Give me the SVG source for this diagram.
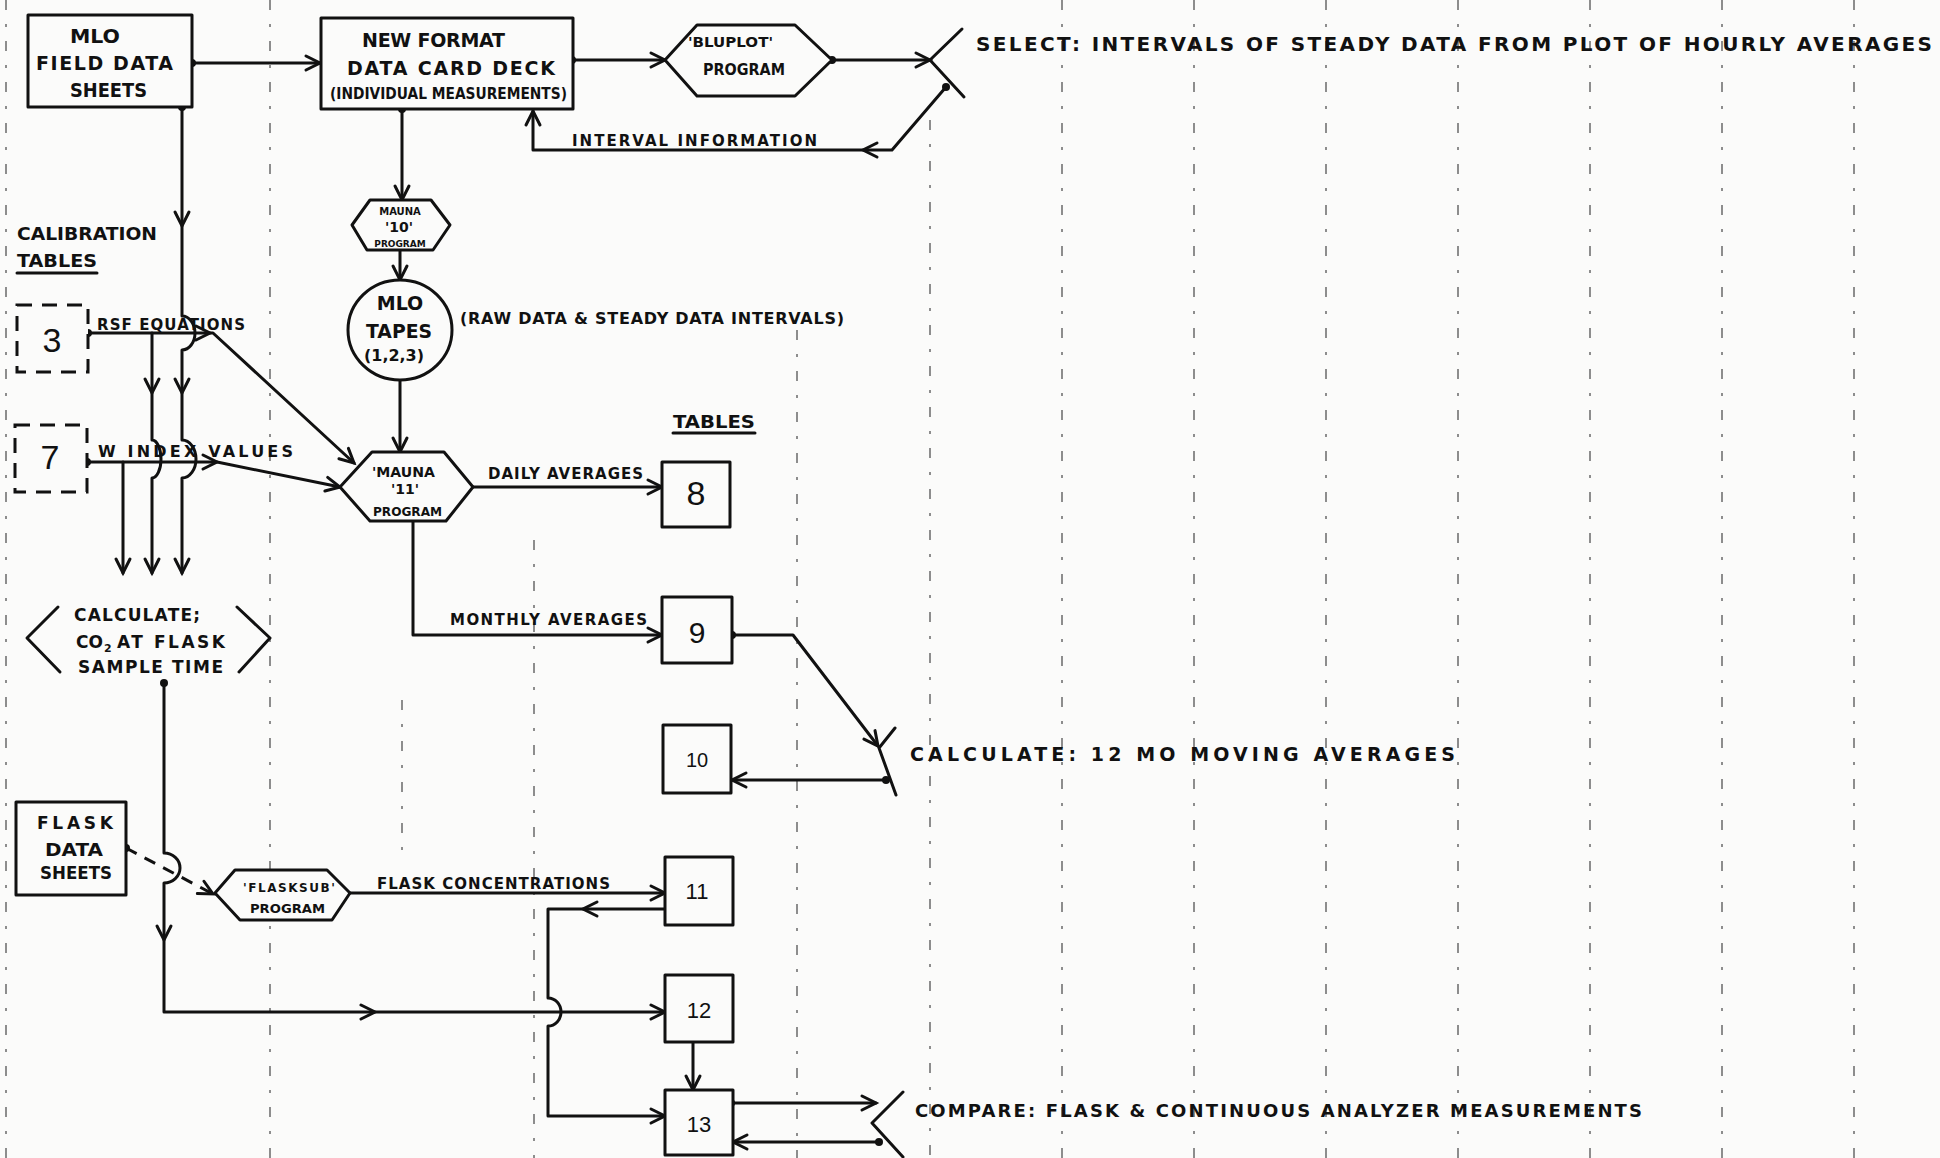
<svg xmlns="http://www.w3.org/2000/svg" xmlns:xlink="http://www.w3.org/1999/xlink" width="1940" height="1158" viewBox="0 0 1940 1158">
<style>
.bg{fill:#fbfbfa}
.grid{stroke:#333;stroke-width:2;stroke-dasharray:10 14 3 14;opacity:0.55;fill:none}
.ln{stroke:#111;stroke-width:3;fill:none;stroke-linejoin:round;stroke-linecap:round}
.dash{stroke:#111;stroke-width:3;fill:none;stroke-dasharray:12 9}
.shape{stroke:#111;stroke-width:3;fill:#fbfbfa;stroke-linejoin:round}
.dbox{stroke:#111;stroke-width:3;fill:#fbfbfa;stroke-dasharray:15 10}
.t{font-family:'DejaVu Sans','Liberation Sans',Arial,sans-serif;font-weight:bold;fill:#111}
.n{font-family:'Liberation Sans',Arial,sans-serif;fill:#111;text-anchor:middle}
.c{text-anchor:middle}
</style>
<defs>
<path id="ah" d="M-14,-7 L0,0 L-14,7" fill="none" stroke="#111" stroke-width="3" stroke-linejoin="miter" stroke-linecap="round"/>
<circle id="dot" r="4" fill="#111"/>
</defs>
<rect class="bg" x="0" y="0" width="1940" height="1158"/>

<g id="paper-rules">
<line class="grid" x1="6" y1="0" x2="6" y2="1158"/>
<line class="grid" x1="270" y1="0" x2="270" y2="1158"/>
<line class="grid" x1="402" y1="700" x2="402" y2="850"/>
<line class="grid" x1="534" y1="540" x2="534" y2="1158"/>
<line class="grid" x1="797" y1="330" x2="797" y2="1158"/>
<line class="grid" x1="930" y1="120" x2="930" y2="1158"/>
<line class="grid" x1="1062" y1="0" x2="1062" y2="1158"/>
<line class="grid" x1="1194" y1="0" x2="1194" y2="1158"/>
<line class="grid" x1="1326" y1="0" x2="1326" y2="1158"/>
<line class="grid" x1="1458" y1="0" x2="1458" y2="1158"/>
<line class="grid" x1="1590" y1="0" x2="1590" y2="1158"/>
<line class="grid" x1="1722" y1="0" x2="1722" y2="1158"/>
<line class="grid" x1="1854" y1="0" x2="1854" y2="1158"/>
</g>

<g id="connectors">
<path class="ln" d="M192,63 L320,63"/>
<use xlink:href="#dot" x="192" y="63"/>
<use xlink:href="#ah" transform="translate(320,63)"/>
<path class="ln" d="M572,60 L665,60"/>
<use xlink:href="#dot" x="572" y="60"/>
<use xlink:href="#ah" transform="translate(665,60)"/>
<path class="ln" d="M832,60 L930,60"/>
<use xlink:href="#dot" x="832" y="60"/>
<use xlink:href="#ah" transform="translate(930,60)"/>
<path class="ln" d="M946,87 L892,150 L533,150 L533,111"/>
<use xlink:href="#dot" x="946" y="87"/>
<use xlink:href="#ah" transform="translate(863,150) rotate(180)"/>
<use xlink:href="#ah" transform="translate(533,111) rotate(-90)"/>
<path class="ln" d="M402,109 L402,200"/>
<use xlink:href="#dot" x="402" y="109"/>
<use xlink:href="#ah" transform="translate(402,200) rotate(90)"/>
<path class="ln" d="M400,250 L400,280"/>
<use xlink:href="#ah" transform="translate(400,280) rotate(90)"/>
<path class="ln" d="M400,380 L400,452"/>
<use xlink:href="#ah" transform="translate(400,452) rotate(90)"/>
<path class="ln" d="M473,487 L662,487"/>
<use xlink:href="#ah" transform="translate(662,487)"/>
<path class="ln" d="M413,521 L413,635 L662,635"/>
<use xlink:href="#ah" transform="translate(662,635)"/>
<path class="ln" d="M732,635 L793,635 L878,746"/>
<use xlink:href="#dot" x="732" y="635"/>
<use xlink:href="#ah" transform="translate(878,746) rotate(52.5)"/>
<path class="ln" d="M886,780 L732,780"/>
<use xlink:href="#dot" x="886" y="780"/>
<use xlink:href="#ah" transform="translate(732,780) rotate(180)"/>
<path class="ln" d="M182,107 L182,316 A13,17 0 0 1 182,350 L182,440 A14,19 0 0 1 182,478 L182,573"/>
<use xlink:href="#dot" x="182" y="107"/>
<use xlink:href="#ah" transform="translate(182,226) rotate(90)"/>
<use xlink:href="#ah" transform="translate(182,393) rotate(90)"/>
<use xlink:href="#ah" transform="translate(182,573) rotate(90)"/>
<path class="ln" d="M88,333 L213,333 L354,463"/>
<use xlink:href="#dot" x="88" y="333"/>
<use xlink:href="#ah" transform="translate(210,333)"/>
<use xlink:href="#ah" transform="translate(354,463) rotate(42.5)"/>
<path class="ln" d="M152,333 L152,440 A9,19 0 0 1 152,478 L152,573"/>
<use xlink:href="#ah" transform="translate(152,393) rotate(90)"/>
<use xlink:href="#ah" transform="translate(152,573) rotate(90)"/>
<path class="ln" d="M87,462 L217,462 L340,487"/>
<use xlink:href="#dot" x="87" y="462"/>
<use xlink:href="#ah" transform="translate(217,462)"/>
<use xlink:href="#ah" transform="translate(340,487) rotate(11.5)"/>
<path class="ln" d="M123,462 L123,573"/>
<use xlink:href="#ah" transform="translate(123,573) rotate(90)"/>
<path class="ln" d="M164,683 L164,853 A16,15 0 0 1 164,883 L164,1012 L665,1012"/>
<use xlink:href="#dot" x="164" y="683"/>
<use xlink:href="#ah" transform="translate(164,940) rotate(90)"/>
<use xlink:href="#ah" transform="translate(375,1012)"/>
<use xlink:href="#ah" transform="translate(665,1012)"/>
<path class="dash" d="M126,848 L213,894"/>
<use xlink:href="#dot" x="126" y="848"/>
<use xlink:href="#ah" transform="translate(213,894) rotate(28)"/>
<path class="ln" d="M350,893 L665,893"/>
<use xlink:href="#ah" transform="translate(665,893)"/>
<path class="ln" d="M665,909 L548,909 L548,998 A13,14 0 0 1 548,1026 L548,1116 L665,1116"/>
<use xlink:href="#ah" transform="translate(583,909) rotate(180)"/>
<use xlink:href="#ah" transform="translate(665,1116)"/>
<path class="ln" d="M693,1042 L693,1090"/>
<use xlink:href="#ah" transform="translate(693,1090) rotate(90)"/>
<path class="ln" d="M731,1103 L876,1103"/>
<use xlink:href="#dot" x="731" y="1103"/>
<use xlink:href="#ah" transform="translate(876,1103)"/>
<path class="ln" d="M879,1142 L733,1142"/>
<use xlink:href="#dot" x="879" y="1142"/>
<use xlink:href="#ah" transform="translate(733,1142) rotate(180)"/>
</g>

<g id="mlo-field-data-sheets">
<rect class="shape" x="28" y="15" width="164" height="92"/>
<text class="t" x="70" y="43" font-size="19" textLength="50" lengthAdjust="spacingAndGlyphs">MLO</text>
<text class="t" x="36" y="70" font-size="19" textLength="137" lengthAdjust="spacing">FIELD DATA</text>
<text class="t" x="70" y="97" font-size="19" textLength="77" lengthAdjust="spacingAndGlyphs">SHEETS</text>
</g>

<g id="data-card-deck">
<rect class="shape" x="321" y="18" width="252" height="91"/>
<text class="t" x="362" y="47" font-size="19" textLength="143" lengthAdjust="spacing">NEW FORMAT</text>
<text class="t" x="347" y="75" font-size="19" textLength="208" lengthAdjust="spacing">DATA CARD DECK</text>
<text class="t" x="330" y="99" font-size="15" textLength="237" lengthAdjust="spacingAndGlyphs">(INDIVIDUAL MEASUREMENTS)</text>
</g>

<g id="bluplot-program">
<polygon class="shape" points="665,60 697,25 795,25 832,60 795,96 697,96"/>
<text class="t" x="688" y="47" font-size="14" textLength="85" lengthAdjust="spacingAndGlyphs">'BLUPLOT'</text>
<text class="t" x="703" y="75" font-size="15" textLength="82" lengthAdjust="spacingAndGlyphs">PROGRAM</text>
</g>

<g id="select-intervals">
<path class="ln" d="M962,29 L930,60 L964,97"/>
<text class="t" x="976" y="51" font-size="20" textLength="956" lengthAdjust="spacing">SELECT: INTERVALS OF STEADY DATA FROM PLOT OF HOURLY AVERAGES</text>
</g>

<g id="interval-information-label">
<text class="t" x="572" y="146" font-size="15" textLength="245" lengthAdjust="spacing">INTERVAL INFORMATION</text>
</g>

<g id="mauna-10-program">
<polygon class="shape" points="352,225 370,200 431,200 450,225 433,250 367,250"/>
<text class="t c" x="400" y="215" font-size="10">MAUNA</text>
<text class="t c" x="399" y="232" font-size="14">'10'</text>
<text class="t c" x="400" y="247" font-size="9">PROGRAM</text>
</g>

<g id="mlo-tapes">
<ellipse class="shape" cx="400" cy="330" rx="52" ry="50"/>
<text class="t c" x="400" y="310" font-size="19">MLO</text>
<text class="t" x="366" y="338" font-size="19" textLength="66" lengthAdjust="spacingAndGlyphs">TAPES</text>
<text class="t" x="364" y="361" font-size="16" textLength="60" lengthAdjust="spacingAndGlyphs">(1,2,3)</text>
</g>

<g id="raw-data-label">
<text class="t" x="460" y="324" font-size="16" textLength="384" lengthAdjust="spacing">(RAW DATA &amp; STEADY DATA INTERVALS)</text>
</g>

<g id="calibration-tables-label">
<text class="t" x="17" y="240" font-size="17" textLength="140" lengthAdjust="spacingAndGlyphs">CALIBRATION</text>
<text class="t" x="17" y="267" font-size="17" textLength="80" lengthAdjust="spacingAndGlyphs">TABLES</text>
<line class="ln" x1="17" y1="273" x2="97" y2="273"/>
</g>

<g id="table-3">
<rect class="dbox" x="17" y="305" width="71" height="67"/>
<text class="n" x="52" y="352" font-size="34">3</text>
<text class="t" x="97" y="330" font-size="15" textLength="148" lengthAdjust="spacing">RSF EQUATIONS</text>
</g>

<g id="table-7">
<rect class="dbox" x="15" y="425" width="72" height="67"/>
<text class="n" x="50" y="469" font-size="34">7</text>
<text class="t" x="98" y="457" font-size="16" textLength="195" lengthAdjust="spacing">W INDEX VALUES</text>
</g>

<g id="mauna-11-program">
<polygon class="shape" points="340,487 372,452 444,452 473,487 446,521 370,521"/>
<text class="t" x="372" y="477" font-size="14" textLength="63" lengthAdjust="spacingAndGlyphs">'MAUNA</text>
<text class="t c" x="405" y="494" font-size="14">'11'</text>
<text class="t" x="373" y="516" font-size="12" textLength="69" lengthAdjust="spacingAndGlyphs">PROGRAM</text>
</g>

<g id="tables-label">
<text class="t" x="673" y="428" font-size="17" textLength="82" lengthAdjust="spacingAndGlyphs">TABLES</text>
<line class="ln" x1="673" y1="433" x2="755" y2="433"/>
</g>

<g id="table-8">
<rect class="shape" x="662" y="462" width="68" height="65"/>
<text class="n" x="696" y="505" font-size="34">8</text>
<text class="t" x="488" y="479" font-size="15" textLength="155" lengthAdjust="spacing">DAILY AVERAGES</text>
</g>

<g id="table-9">
<rect class="shape" x="662" y="597" width="70" height="66"/>
<text class="n" x="697" y="643" font-size="30">9</text>
<text class="t" x="450" y="625" font-size="15" textLength="197" lengthAdjust="spacing">MONTHLY AVERAGES</text>
</g>

<g id="calculate-moving-averages">
<path class="ln" d="M895,728 L879,748 L896,795"/>
<text class="t" x="910" y="761" font-size="19" textLength="545" lengthAdjust="spacing">CALCULATE: 12 MO MOVING AVERAGES</text>
</g>

<g id="table-10">
<rect class="shape" x="663" y="725" width="68" height="68"/>
<text class="n" x="697" y="767" font-size="20">10</text>
</g>

<g id="calculate-co2">
<path class="ln" d="M58,607 L27,638 L60,672"/>
<path class="ln" d="M237,607 L270,638 L239,672"/>
<text class="t" x="74" y="621" font-size="17" textLength="126" lengthAdjust="spacing">CALCULATE;</text>
<text class="t" x="76" y="648" font-size="17" textLength="27" lengthAdjust="spacingAndGlyphs">CO</text>
<text class="t" x="104" y="652" font-size="11">2</text>
<text class="t" x="117" y="648" font-size="17" textLength="108" lengthAdjust="spacing">AT FLASK</text>
<text class="t" x="78" y="673" font-size="17" textLength="145" lengthAdjust="spacing">SAMPLE TIME</text>
</g>

<g id="flask-data-sheets">
<rect class="shape" x="16" y="802" width="110" height="93"/>
<text class="t" x="37" y="829" font-size="17" textLength="76" lengthAdjust="spacing">FLASK</text>
<text class="t" x="45" y="856" font-size="17" textLength="58" lengthAdjust="spacingAndGlyphs">DATA</text>
<text class="t" x="40" y="879" font-size="17" textLength="72" lengthAdjust="spacingAndGlyphs">SHEETS</text>
</g>

<g id="flasksub-program">
<polygon class="shape" points="215,893 235,870 327,870 350,893 332,920 240,920"/>
<text class="t" x="243" y="892" font-size="12" textLength="92" lengthAdjust="spacing">'FLASKSUB'</text>
<text class="t" x="250" y="913" font-size="12" textLength="75" lengthAdjust="spacingAndGlyphs">PROGRAM</text>
</g>

<g id="flask-concentrations-label">
<text class="t" x="377" y="889" font-size="15" textLength="233" lengthAdjust="spacing">FLASK CONCENTRATIONS</text>
</g>

<g id="table-11">
<rect class="shape" x="665" y="857" width="68" height="68"/>
<text class="n" x="697" y="899" font-size="22">11</text>
</g>

<g id="table-12">
<rect class="shape" x="665" y="975" width="68" height="67"/>
<text class="n" x="699" y="1018" font-size="22">12</text>
</g>

<g id="table-13">
<rect class="shape" x="665" y="1090" width="68" height="65"/>
<text class="n" x="699" y="1132" font-size="22">13</text>
</g>

<g id="compare-measurements">
<path class="ln" d="M903,1092 L872,1123 L903,1157"/>
<text class="t" x="915" y="1117" font-size="18" textLength="727" lengthAdjust="spacing">COMPARE: FLASK &amp; CONTINUOUS ANALYZER MEASUREMENTS</text>
</g>
</svg>
